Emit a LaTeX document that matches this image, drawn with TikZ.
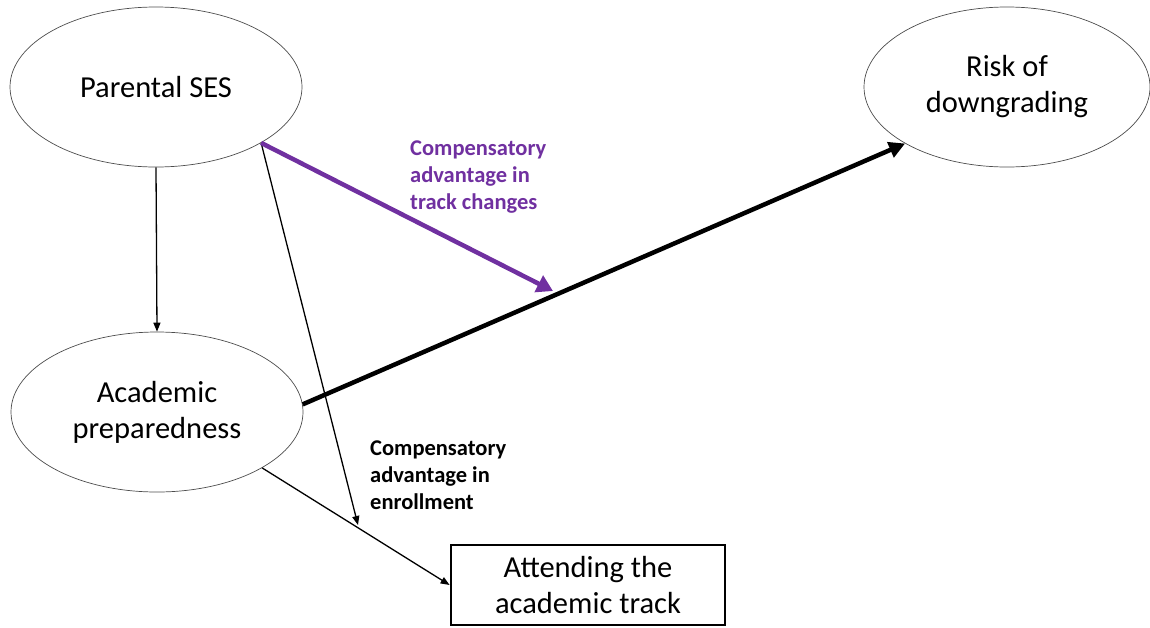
\documentclass[tikz,border=0pt]{standalone}
\usepackage{fontspec}
\setmainfont{Carlito}
\usetikzlibrary{arrows.meta,shapes.geometric}
\definecolor{officepurple}{HTML}{7030A0}
\begin{document}
\begin{tikzpicture}[x=1pt,y=-1pt,
  oval/.style={ellipse,draw=black!70,line width=0.7pt,minimum width=292pt,minimum height=160pt,inner sep=0pt,align=center,font=\fontsize{30.5}{36}\selectfont},
  trackbox/.style={rectangle,draw=black,line width=2.8pt,minimum width=274pt,minimum height=80pt,inner sep=0pt,align=center,font=\fontsize{30.5}{36}\selectfont},
  thinarrow/.style={line width=1.3pt,-{Triangle[length=9pt,width=7pt]}},
  thickarrow/.style={line width=4.5pt,-{Triangle[length=16pt,width=16pt]}},
  purplearrow/.style={draw=officepurple,line width=4.5pt,-{Triangle[length=16pt,width=18pt]},color=officepurple},
  lab/.style={font=\fontsize{22.5}{27}\selectfont\bfseries,align=left,inner sep=0pt,anchor=base west}]
\useasboundingbox (0,0) rectangle (1150,627);
\node[oval] (ses) at (156,87) {Parental SES};
\node[oval] (acad) at (157,412) {Academic\\preparedness};
\node[oval,minimum width=286pt] (risk) at (1007,87) {Risk of\\downgrading};
\node[trackbox] (track) at (588,585) {Attending the\\academic track};
\coordinate (enr) at (358,525);
\coordinate (mod) at (553,291);
\draw[thinarrow] (ses.south) -- (acad.north);
\draw[thinarrow] (ses.-28) -- (enr);
\draw[thinarrow] (acad.-28.5) -- (track.west);
\draw[thickarrow] (acad.3) -- (risk.-151);
\draw[purplearrow] (ses.-28) -- (mod);
\node[lab] (lenr) at (370,509) {Compensatory\\advantage in\\enrollment};
\node[lab,text=officepurple] (lmod) at (410,209) {Compensatory\\advantage in\\track changes};
\end{tikzpicture}
\end{document}
